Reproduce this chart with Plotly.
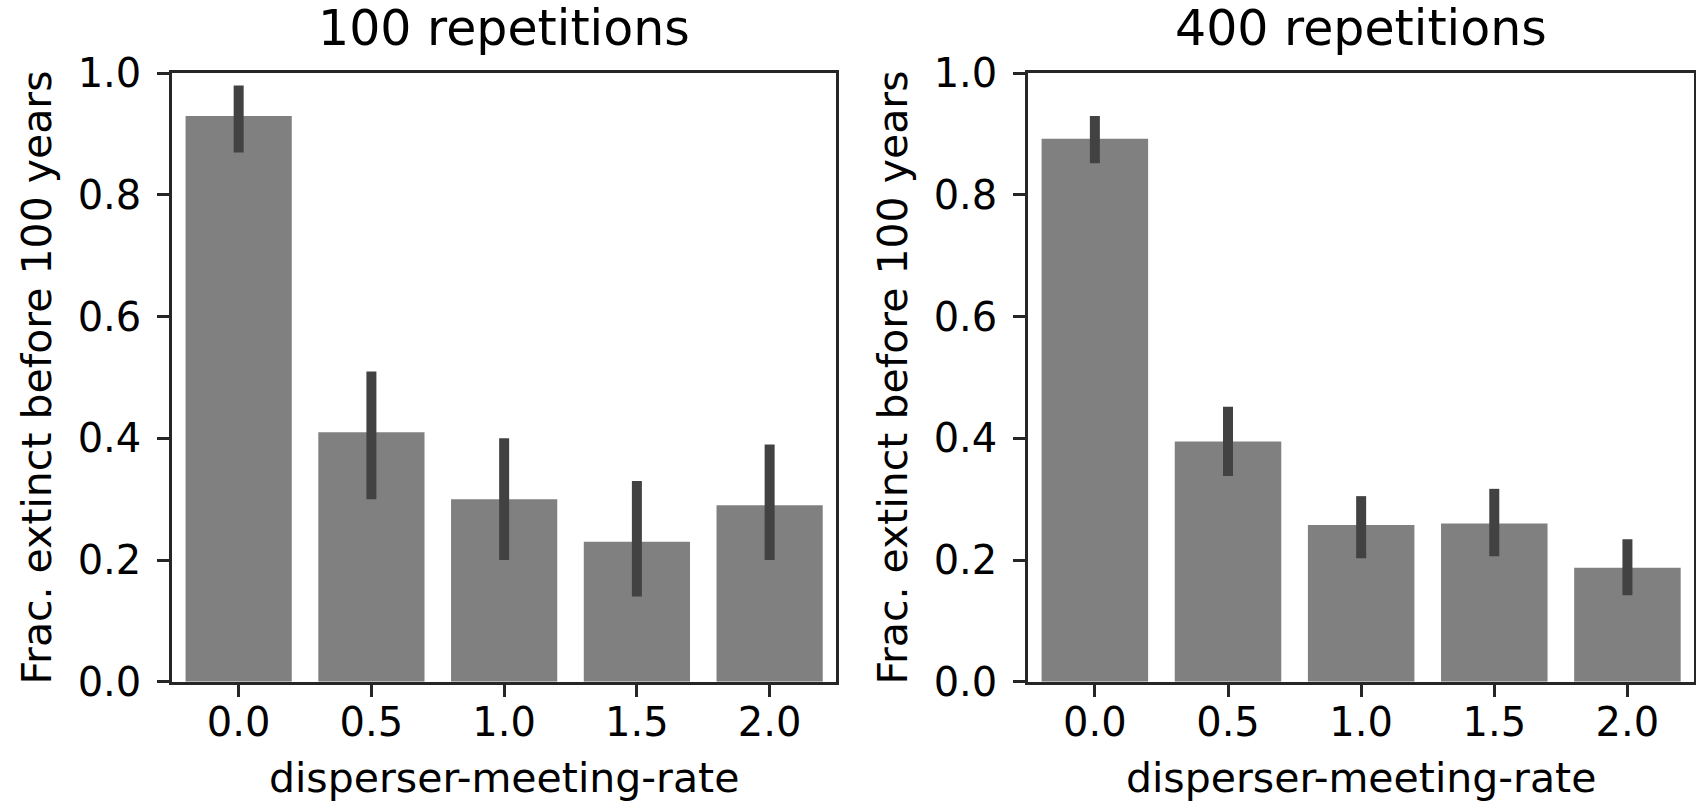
import plotly.graph_objects as go

# ---- data ----
categories = ["0.0", "0.5", "1.0", "1.5", "2.0"]
titles = ["100 repetitions", "400 repetitions"]

frac_100 = [0.93, 0.41, 0.30, 0.23, 0.29]
ci_low_100 = [0.87, 0.30, 0.20, 0.14, 0.20]
ci_high_100 = [0.98, 0.51, 0.40, 0.33, 0.39]

frac_400 = [0.8925, 0.395, 0.2575, 0.26, 0.1875]
ci_low_400 = [0.852, 0.338, 0.203, 0.206, 0.142]
ci_high_400 = [0.930, 0.452, 0.305, 0.317, 0.234]

y_ticks = [0.0, 0.2, 0.4, 0.6, 0.8, 1.0]

W, H = 1696, 802
FONT = "DejaVu Sans"
BAR_COLOR = "#808080"
ERR_COLOR = "#424242"
SPINE = "#262626"

# layout geometry (pixels)
top_px, bottom_px = 73.3, 681.7
panels_px = [(172.3, 836.0), (1028.3, 1694.0)]

fig = go.Figure()
series = [(frac_100, ci_low_100, ci_high_100), (frac_400, ci_low_400, ci_high_400)]

layout = dict(
    width=W, height=H,
    margin=dict(l=0, r=0, t=0, b=0, pad=0, autoexpand=False),
    paper_bgcolor="white", plot_bgcolor="white",
    showlegend=False,
    font=dict(family=FONT, color="#000000", size=40),
    annotations=[],
)

for i, ((vals, lo, hi), (x0, x1)) in enumerate(zip(series, panels_px)):
    xa = "x" if i == 0 else f"x{i+1}"
    ya = "y" if i == 0 else f"y{i+1}"
    fig.add_trace(go.Bar(
        x=categories, y=vals, width=0.8,
        marker=dict(color=BAR_COLOR, line=dict(width=0)),
        error_y=dict(type="data", symmetric=False,
                     array=[h - v for h, v in zip(hi, vals)],
                     arrayminus=[v - l for v, l in zip(vals, lo)],
                     color=ERR_COLOR, thickness=10, width=0),
        xaxis=xa, yaxis=ya,
    ))
    dom_x = [x0 / W, x1 / W]
    dom_y = [1 - bottom_px / H, 1 - top_px / H]
    xkey = "xaxis" if i == 0 else f"xaxis{i+1}"
    ykey = "yaxis" if i == 0 else f"yaxis{i+1}"
    layout[xkey] = dict(
        domain=dom_x, anchor=ya, type="category", range=[-0.5, 4.5],
        automargin=False,
        showline=True, linecolor=SPINE, linewidth=3, mirror=True,
        ticks="outside", ticklen=12, tickwidth=3, tickcolor=SPINE,
        showgrid=False, zeroline=False,
        tickfont=dict(family=FONT, size=40, color="#000000"),
        ticklabelstandoff=-9,
        title=dict(text="disperser-meeting-rate", font=dict(family=FONT, size=41, color="#000000"), standoff=30),
    )
    layout[ykey] = dict(
        domain=dom_y, anchor=xa, range=[0, 1],
        automargin=False,
        tickvals=y_ticks, ticktext=[f"{t:.1f}" for t in y_ticks],
        showline=True, linecolor=SPINE, linewidth=3, mirror=True,
        ticks="outside", ticklen=12, tickwidth=3, tickcolor=SPINE,
        showgrid=False, zeroline=False,
        tickfont=dict(family=FONT, size=40, color="#000000"),
        ticklabelstandoff=8,
        title=dict(text="Frac. extinct before 100 years", font=dict(family=FONT, size=41, color="#000000"), standoff=14),
    )
    layout["annotations"].append(dict(
        text=titles[i], xref="paper", yref="paper",
        x=(x0 + x1) / 2 / W, y=1 - 59 / H,
        xanchor="center", yanchor="bottom", showarrow=False,
        font=dict(family=FONT, size=49, color="#000000"),
    ))

fig.update_layout(**layout)
fig.write_html("out.html")
